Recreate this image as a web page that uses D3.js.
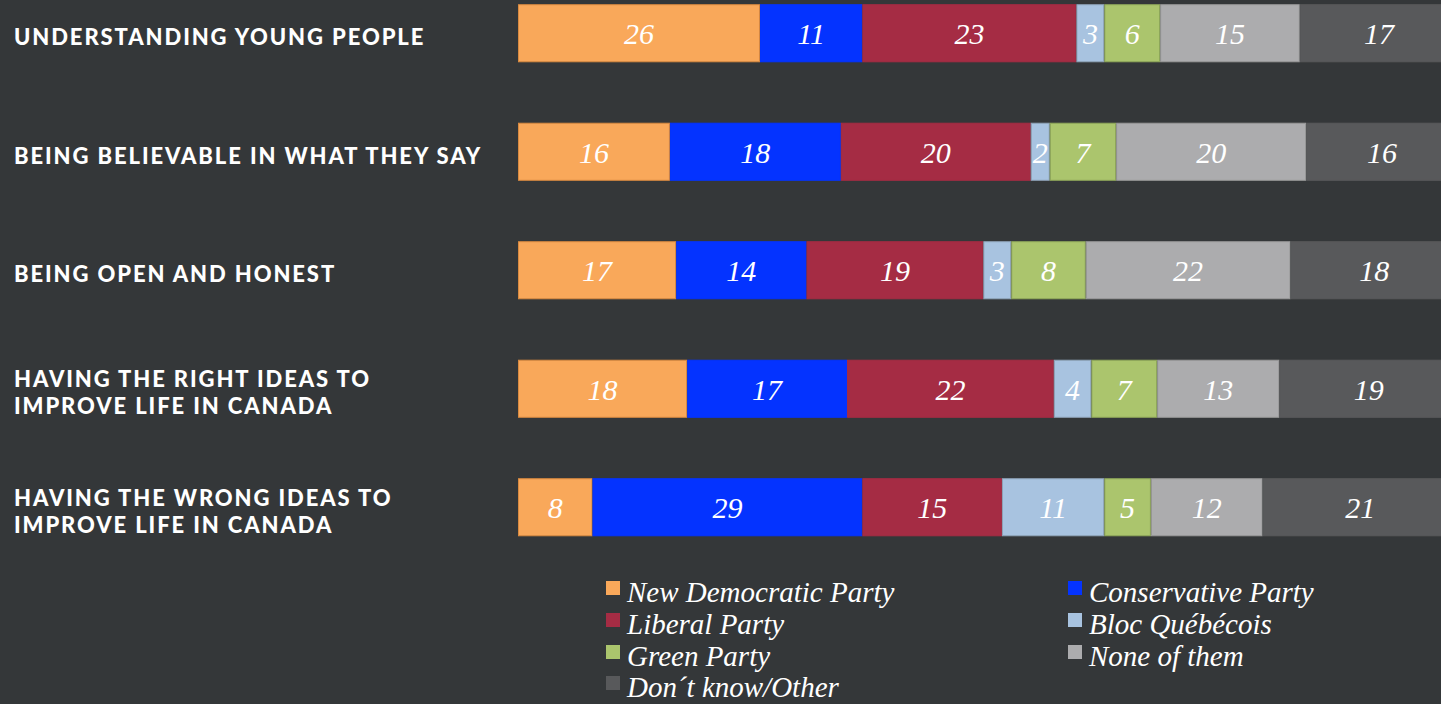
<!DOCTYPE html>
<html><head><meta charset="utf-8">
<script src="https://cdn.jsdelivr.net/npm/d3@7"></script>
<style>
html,body{margin:0;padding:0;background:#343739;overflow:hidden;}
svg{display:block;}
</style></head>
<body>
<svg id="chart" width="1441" height="704"></svg>
<script>
const categories = [
  ["UNDERSTANDING YOUNG PEOPLE"],
  ["BEING BELIEVABLE IN WHAT THEY SAY"],
  ["BEING OPEN AND HONEST"],
  ["HAVING THE RIGHT IDEAS TO", "IMPROVE LIFE IN CANADA"],
  ["HAVING THE WRONG IDEAS TO", "IMPROVE LIFE IN CANADA"]
];
const parties = ["New Democratic Party","Conservative Party","Liberal Party","Bloc Québécois","Green Party","None of them","Don´t know/Other"];
const colors = ["#F9A85A","#0433FF","#A52C44","#A8C3E0","#ABC56D","#ACACAE","#58595B"];
const strokes = ["#D98A40","#0433FF","#A52C44","#8FA3B8","#8FA85A","#999999","#58595B"];
const ndp   = [26,16,17,18,8];
const cons  = [11,18,14,17,29];
const lib   = [23,20,19,22,15];
const bloc  = [3,2,3,4,11];
const green = [6,7,8,7,5];
const none  = [15,20,22,13,12];
const dk    = [17,16,18,19,21];
const series = [ndp,cons,lib,bloc,green,none,dk];

const svg = d3.select("#chart");
const x = d3.scaleLinear().domain([0,100]).range([518,1458]);
const y = d3.scaleBand().domain(d3.range(categories.length)).range([-26,566.5]).paddingInner(0.51).paddingOuter(0.255);

const rows = categories.map((c,i)=>{
  const vals = series.map(s=>s[i]);
  const total = d3.sum(vals);
  let acc = 0;
  return vals.map((v,k)=>{ const s = acc; acc += v/total*100; return {row:i,k,v,x0:s,x1:acc}; });
});

const g = svg.append("g");
rows.forEach((segs,i)=>{
  const rg = g.append("g");
  rg.selectAll("rect").data(segs).join("rect")
    .attr("x",d=>x(d.x0)+0.5).attr("y",y(i)+0.5)
    .attr("width",d=>x(d.x1)-x(d.x0)-1).attr("height",y.bandwidth()-1)
    .attr("fill",d=>colors[d.k]).attr("stroke",d=>strokes[d.k]).attr("stroke-width",1);
  rg.selectAll("text").data(segs).join("text")
    .attr("x",d=>(x(d.x0)+x(d.x1))/2).attr("y",y(i)+y.bandwidth()/2+11)
    .attr("text-anchor","middle").attr("fill","#fff")
    .style("font-family","'Liberation Serif','DejaVu Serif',serif").style("font-style","italic")
    .style("font-size","30px").text(d=>d.v);
  const lines = categories[i];
  const cy = y(i)+y.bandwidth()/2;
  const t = g.append("text").attr("fill","#fff")
    .style("font-family","Lato,'Open Sans',sans-serif").style("font-weight","900")
    .style("font-size","22px").style("letter-spacing","1.9px");
  lines.forEach((ln,j)=>{
    t.append("tspan").attr("x",14).attr("y",cy + 12 + (j-(lines.length-1)/2)*27).text(ln);
  });
});

// legend
const legendPos = [[606,593],[1068,593],[606,625],[1068,625],[606,657],[1068,657],[606,688]];
const lg = svg.append("g");
parties.forEach((p,k)=>{
  const [lx,ly] = legendPos[k];
  lg.append("rect").attr("x",lx).attr("y",ly-12).attr("width",14).attr("height",14).attr("fill",colors[k]);
  lg.append("text").attr("x",lx+21).attr("y",ly+9).attr("fill","#fff")
    .style("font-family","'Liberation Serif','DejaVu Serif',serif").style("font-style","italic")
    .style("font-size","29px").text(p);
});
</script>
</body></html>
